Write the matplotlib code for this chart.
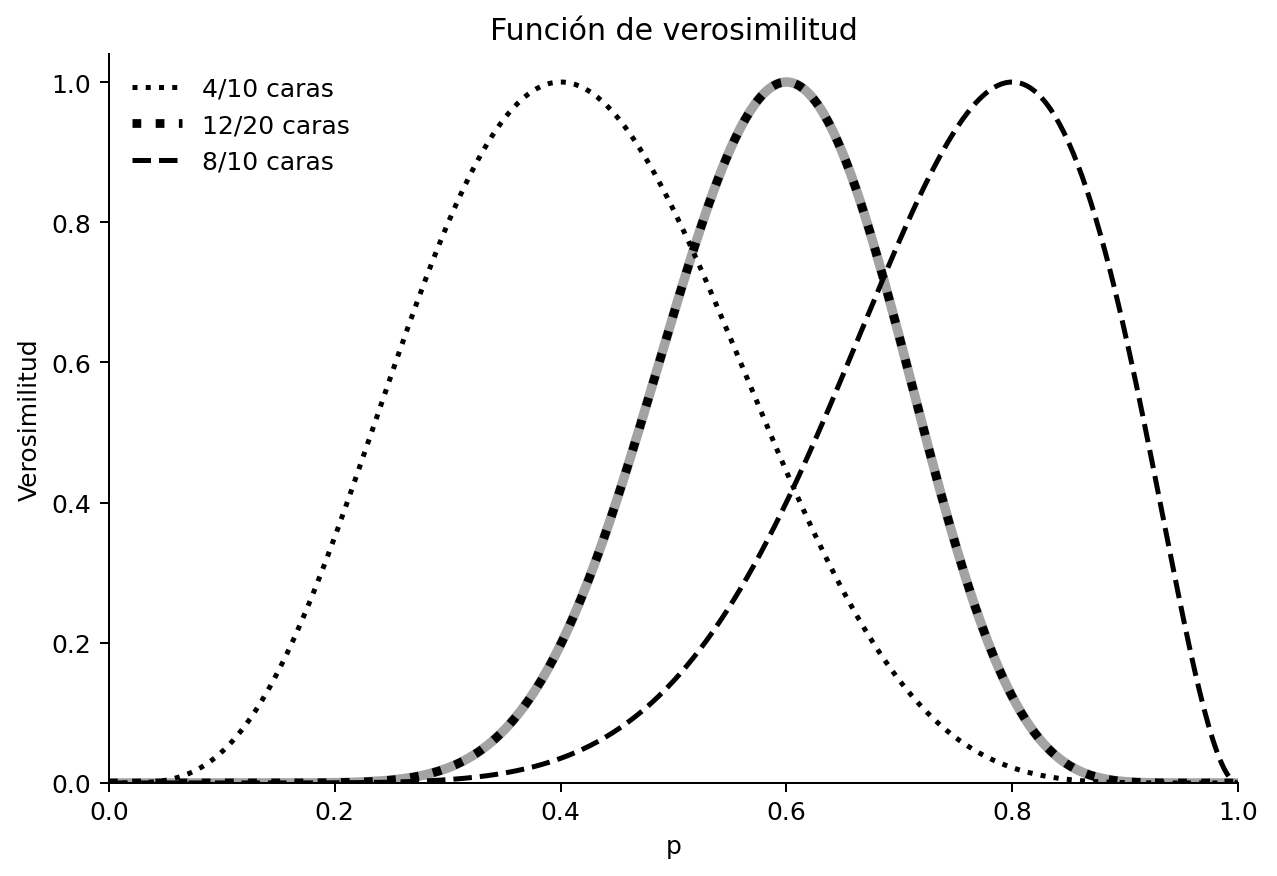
import numpy as np
import matplotlib.pyplot as plt

# experimentos: caras observadas / lanzamientos
caras = [4, 12, 8]
lanzamientos = [10, 20, 10]
etiquetas = ['4/10 caras', '12/20 caras', '8/10 caras']
estilos = [':', ':', '--']
anchos = [2, 3.5, 2]

p = np.linspace(0, 1, 500)

def verosimilitud(k, n):
    # verosimilitud binomial normalizada a maximo 1
    L = p**k * (1 - p)**(n - k)
    return L / L.max()

fig = plt.figure(figsize=(1277/180, 877/180), dpi=180)
ax = fig.add_axes([109/1277, 93/877, 1129/1277, 729/877])

# linea gris de fondo para 12/20
ax.plot(p, verosimilitud(caras[1], lanzamientos[1]), color='#a3a3a3', lw=3.8)

for k, n, lab, ls, lw in zip(caras, lanzamientos, etiquetas, estilos, anchos):
    ax.plot(p, verosimilitud(k, n), color='black', ls=ls, lw=lw, label=lab)

ax.set_xlim(0, 1)
ax.set_ylim(0, 1.04)
ax.spines['top'].set_visible(False)
ax.spines['right'].set_visible(False)
ax.set_xlabel('p')
ax.set_ylabel('Verosimilitud')
ax.set_title('Función de verosimilitud')
ax.legend(loc='upper left', frameon=False)

fig.savefig('out.png', dpi=180)
